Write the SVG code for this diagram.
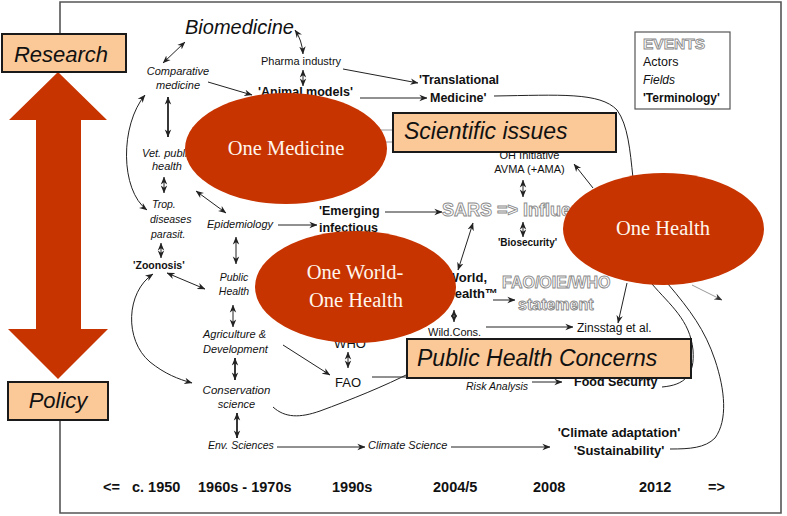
<svg xmlns="http://www.w3.org/2000/svg" width="787" height="516" viewBox="0 0 787 516">
<style>
.fr{fill:none;stroke:#555;stroke-width:1.6}
.ln{fill:none;stroke:#222;stroke-width:1}
.lk{fill:none;stroke:#222;stroke-width:1.8}
.lg{fill:none;stroke:#999;stroke-width:1}
text{font-family:"Liberation Sans",Arial,sans-serif;fill:#111}
.it{font-style:italic;font-size:11px}
.b{font-weight:bold}
.m{text-anchor:middle}
.e{text-anchor:end}
.ell{fill:#C73400}
.et{font-family:"Liberation Serif","DejaVu Serif",serif;fill:#FFF6EE;font-size:20.5px;text-anchor:middle}
.box{fill:#FBC898;stroke:#1a1a1a;stroke-width:2}
.big{font-style:italic;font-size:23px}
.hol{fill:#fff;stroke:#8a8a8a;stroke-width:0.9;font-weight:bold}
.tl{font-weight:bold;font-size:14.5px}
</style>
<defs>
<marker id="ah" viewBox="0 0 10 10" refX="9.5" refY="5" markerWidth="8" markerHeight="8" orient="auto-start-reverse" markerUnits="userSpaceOnUse">
<path d="M0,1 L10,5 L0,9 L3,5 z" fill="#222"/>
</marker>
<marker id="ahg" viewBox="0 0 10 10" refX="9.5" refY="5" markerWidth="8" markerHeight="8" orient="auto-start-reverse" markerUnits="userSpaceOnUse">
<path d="M0,1 L10,5 L0,9 L3,5 z" fill="#333"/>
</marker>
</defs>
<rect width="787" height="516" fill="#fff"/>
<path class="fr" d="M60,34 V2 H781 V513 H60 V420"/>

<g id="connectors">
<path class="ln" d="M163,63 L185,42" marker-start="url(#ah)" marker-end="url(#ah)"/>
<path class="ln" d="M208,82 L252,95" marker-end="url(#ah)"/>
<path class="ln" d="M295,30 Q302,40 303,54" marker-start="url(#ah)" marker-end="url(#ah)"/>
<path class="ln" d="M303,70 L303,86" marker-start="url(#ah)" marker-end="url(#ah)"/>
<path class="ln" d="M343,69 L418,83" marker-end="url(#ah)"/>
<path class="ln" d="M360,98 L427,98" marker-end="url(#ah)"/>
<path class="lk" d="M168,97 L168,137" marker-start="url(#ah)" marker-end="url(#ah)"/>
<path class="ln" d="M164,177 L164,193" marker-start="url(#ah)" marker-end="url(#ah)"/>
<path class="ln" d="M161,243 L161,258" marker-start="url(#ah)" marker-end="url(#ah)"/>
<path class="ln" d="M145,95 C120,125 120,190 147,210" marker-start="url(#ah)" marker-end="url(#ah)"/>
<path class="ln" d="M167,273 L205,289" marker-start="url(#ah)" marker-end="url(#ah)"/>
<path class="ln" d="M153,274 C126,292 124,340 150,362 C165,374 178,379 192,383" marker-start="url(#ah)" marker-end="url(#ah)"/>
<path class="ln" d="M196,191 L226,213" marker-start="url(#ah)" marker-end="url(#ah)"/>
<path class="ln" d="M278,225 L317,225" marker-end="url(#ah)"/>
<path class="ln" d="M236,237 L236,264" marker-start="url(#ah)" marker-end="url(#ah)"/>
<path class="ln" d="M233,305 L233,327" marker-start="url(#ah)" marker-end="url(#ah)"/>
<path class="lk" d="M235,358 L235,380" marker-start="url(#ah)" marker-end="url(#ah)"/>
<path class="lk" d="M237,413 L237,438" marker-start="url(#ah)" marker-end="url(#ah)"/>
<path class="ln" d="M277,447 L365,447" marker-end="url(#ah)"/>
<path class="ln" d="M451,447 L550,447" marker-end="url(#ah)"/>
<path class="ln" d="M283,345 L330,375" marker-end="url(#ah)"/>
<path class="ln" d="M348,352 L348,368" marker-start="url(#ah)" marker-end="url(#ah)"/>
<path class="ln" d="M372,377 L412,377"/>
<path class="ln" d="M273,407 C285,418 300,418 320,411 C350,400 385,386 412,372"/>
<path class="ln" d="M532,382 L562,382" marker-end="url(#ah)"/>
<path class="ln" d="M385,212 L442,212" marker-end="url(#ah)"/>
<path class="ln" d="M523,180 L523,197" marker-start="url(#ah)" marker-end="url(#ah)"/>
<path class="ln" d="M523,222 L523,237" marker-start="url(#ah)" marker-end="url(#ah)"/>
<path class="ln" d="M473,223 L458,270" marker-start="url(#ah)" marker-end="url(#ah)"/>
<path class="ln" d="M493,300 L515,300" marker-end="url(#ah)"/>
<path class="ln" d="M454,310 L454,322" marker-start="url(#ah)" marker-end="url(#ah)"/>
<path class="ln" d="M486,327 L573,327" marker-end="url(#ah)"/>
<path class="ln" d="M627,283 L618,323" marker-end="url(#ah)"/>
<path class="ln" d="M593,188 L574,164" marker-end="url(#ah)"/>
<path class="lg" d="M692,285 L722,300" marker-end="url(#ahg)"/>
<path class="ln" d="M494,96 C560,95 600,92 617,110 C628,125 630,150 633,178"/>
<path class="ln" d="M652,284 C670,305 690,320 693,350 C695,375 685,385 662,387"/>
<path class="ln" d="M668,284 C690,310 705,330 715,360 C725,390 728,420 715,438 C705,448 690,449 670,449"/>
<path class="lg" d="M370,130 H395 M370,142 H395"/>
</g>

<g id="labels">
<text x="185" y="34" style="font-style:italic;font-size:20px">Biomedicine</text>
<text x="261" y="65" style="font-size:11px">Pharma industry</text>
<text x="258" y="96" class="b" style="font-size:12.5px">'Animal models'</text>
<text x="419" y="84" class="b" style="font-size:12.5px">'Translational</text>
<text x="430" y="102" class="b" style="font-size:12.5px">Medicine'</text>
<text x="178" y="75" class="it m">Comparative</text>
<text x="178" y="89" class="it m">medicine</text>
<text x="142" y="157" class="it">Vet. public</text>
<text x="152" y="170" class="it">health</text>
<text x="152" y="208" class="it" style="font-size:10.5px">Trop.</text>
<text x="150" y="223" class="it" style="font-size:10.5px">diseases</text>
<text x="151" y="238" class="it" style="font-size:10.5px">parasit.</text>
<text x="133" y="269" class="b" style="font-size:10.5px">'Zoonosis'</text>
<text x="207" y="228" class="it">Epidemiology</text>
<text x="234" y="281" class="it m" style="font-size:10.5px">Public</text>
<text x="234" y="295" class="it m" style="font-size:10.5px">Health</text>
<text x="203" y="338" class="it">Agriculture &amp;</text>
<text x="203" y="353" class="it">Development</text>
<text x="236.5" y="394" class="it m" style="font-size:11.5px">Conservation</text>
<text x="236.5" y="408" class="it m">science</text>
<text x="208" y="449" class="it" style="font-size:10.5px">Env. Sciences</text>
<text x="368" y="449" class="it">Climate Science</text>
<text x="319" y="215" class="b" style="font-size:12.5px">'Emerging</text>
<text x="319" y="232" class="b" style="font-size:12.5px">infectious</text>
<text x="350" y="348" class="m" style="font-size:13px">WHO</text>
<text x="335" y="387" style="font-size:13px">FAO</text>
<text x="466" y="390" class="it" style="font-size:10.5px">Risk Analysis</text>
<text x="574" y="386" class="b" style="font-size:12.5px">Food Security</text>
<text x="619" y="437" class="b m" style="font-size:13px">'Climate adaptation'</text>
<text x="619" y="455" class="b m" style="font-size:13px">'Sustainability'</text>
<text x="442" y="216" class="hol" style="font-size:18px">SARS =&gt; Influenza</text>
<text x="529.5" y="159" class="m" style="font-size:11px">OH Initiative</text>
<text x="529.5" y="173" class="m" style="font-size:11px">AVMA (+AMA)</text>
<text x="527.5" y="246" class="b m" style="font-size:10px">'Biosecurity'</text>
<text x="487" y="282" class="b e" style="font-size:13px">World,</text>
<text x="498" y="298" class="b e" style="font-size:13px">Health™</text>
<text x="502" y="288" class="hol" style="font-size:16px">FAO/OIE/WHO</text>
<text x="518" y="310" class="hol" style="font-size:16px">statement</text>
<text x="428" y="336" style="font-size:11px">Wild.Cons.</text>
<text x="577" y="332" style="font-size:12px">Zinsstag et al.</text>
</g>

<g id="timeline">
<text x="103" y="492" class="tl">&lt;=</text>
<text x="132" y="492" class="tl">c. 1950</text>
<text x="198" y="492" class="tl">1960s - 1970s</text>
<text x="332" y="492" class="tl">1990s</text>
<text x="433" y="492" class="tl">2004/5</text>
<text x="533" y="492" class="tl">2008</text>
<text x="639" y="492" class="tl">2012</text>
<text x="708" y="492" class="tl">=&gt;</text>
</g>

<g id="one-medicine">
<ellipse class="ell" cx="286" cy="148.5" rx="101" ry="55.5"/>
<text class="et" x="286" y="155">One Medicine</text>
</g>
<g id="one-world-one-health">
<ellipse class="ell" cx="355.5" cy="287" rx="100.5" ry="56"/>
<text class="et" x="355" y="279">One World-</text>
<text class="et" x="356" y="307">One Health</text>
</g>
<g id="one-health">
<ellipse class="ell" cx="663.5" cy="229" rx="100.5" ry="56"/>
<text class="et" x="663" y="235">One Health</text>
</g>

<g id="scientific-issues">
<rect class="box" x="393" y="113" width="223" height="39"/>
<text class="big" x="404" y="139">Scientific issues</text>
</g>
<g id="public-health-concerns">
<rect class="box" x="407" y="339" width="284" height="39"/>
<text class="big" x="417" y="366">Public Health Concerns</text>
</g>

<g id="legend">
<rect x="635" y="32" width="95" height="77" fill="#fff" stroke="#555" stroke-width="1.2"/>
<text x="643" y="49" class="hol" style="font-size:15.5px">EVENTS</text>
<text x="643" y="66" style="font-size:12.5px">Actors</text>
<text x="643" y="84" style="font-size:12px;font-style:italic">Fields</text>
<text x="643" y="102" class="b" style="font-size:12px">'Terminology'</text>
</g>

<g id="research-policy-arrow">
<polygon fill="#C73400" points="58,72 107,120 81,120 81,329 108,329 58,379 8,329 36,329 36,120 9,120"/>
</g>
<g id="research">
<rect class="box" x="2" y="34" width="124" height="38"/>
<text x="61" y="62" class="m" style="font-style:italic;font-size:22px">Research</text>
</g>
<g id="policy">
<rect class="box" x="8" y="382" width="100" height="38"/>
<text x="58" y="408" class="m" style="font-style:italic;font-size:22px">Policy</text>
</g>
</svg>
